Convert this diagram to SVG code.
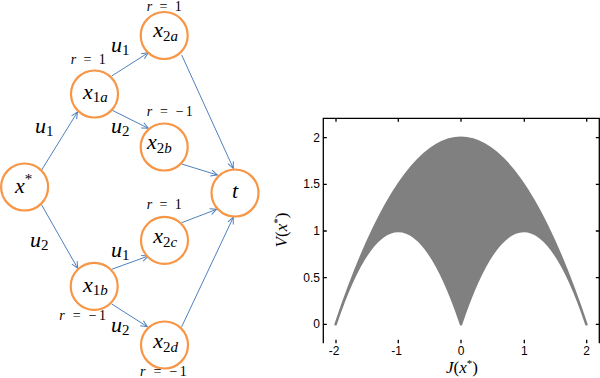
<svg xmlns="http://www.w3.org/2000/svg" width="600" height="378" viewBox="0 0 600 378">
<style>
.node circle{fill:#fff;stroke:#F79646;stroke-width:2.2}
.m{font-family:"Liberation Serif",serif;font-style:italic;font-size:22px;fill:#000}
.s{font-size:15px}
.n{font-style:normal}
.r{font-family:"Liberation Serif",serif;font-size:14px;fill:#000}
.i{font-style:italic}
.edge{stroke:#4F81BD;stroke-width:1;fill:none;marker-end:url(#arr)}
.ax{stroke:#000;stroke-width:1.3;fill:none}
.tk{font-family:"Liberation Sans",Arial,sans-serif;font-size:12px;fill:#000}
.al{font-family:"Liberation Serif",serif;font-size:17px;fill:#000}
</style>
<defs>
<marker id="arr" viewBox="0 0 8 8" refX="7.5" refY="4" markerWidth="8" markerHeight="8" markerUnits="userSpaceOnUse" orient="auto">
<path d="M1,1 L7.5,4 L1,7" fill="none" stroke="#4F81BD" stroke-width="1"/>
</marker>
</defs>
<rect width="600" height="378" fill="#fff"/>
<g id="connectors">
<line class="edge" x1="41" y1="171" x2="77.5" y2="112"/>
<line class="edge" x1="111.7" y1="76" x2="148.3" y2="52.7"/>
<line class="edge" x1="111.7" y1="110" x2="148.3" y2="128.3"/>
<line class="edge" x1="181.7" y1="55" x2="233.3" y2="168.3"/>
<line class="edge" x1="181.7" y1="164" x2="217.3" y2="175"/>
<line class="edge" x1="41.7" y1="205" x2="77.7" y2="268.3"/>
<line class="edge" x1="111.7" y1="269.3" x2="148.3" y2="256"/>
<line class="edge" x1="111.7" y1="304" x2="147.3" y2="326.7"/>
<line class="edge" x1="181.7" y1="222.7" x2="216.7" y2="209.3"/>
<line class="edge" x1="181.7" y1="326.7" x2="233.3" y2="217.3"/>
<text class="m" x="35" y="133">u<tspan class="s n" dy="3">1</tspan></text>
<text class="m" x="30" y="246.7">u<tspan class="s n" dy="3">2</tspan></text>
<text class="m" x="111" y="52.3">u<tspan class="s n" dy="3">1</tspan></text>
<text class="m" x="111" y="133.3">u<tspan class="s n" dy="3">2</tspan></text>
<text class="m" x="111" y="256.7">u<tspan class="s n" dy="3">1</tspan></text>
<text class="m" x="111" y="331.7">u<tspan class="s n" dy="3">2</tspan></text>
</g>
<g id="n_xstar" class="node">
<circle cx="24.6" cy="187" r="23.5"/>
<text class="m" x="15" y="192.5">x<tspan class="s n" dy="-9">*</tspan></text>
</g>
<g id="n_x1a" class="node">
<circle cx="94.5" cy="94" r="23.5"/>
<text class="m" x="83" y="99.3">x<tspan class="s n" dy="3">1</tspan><tspan class="s">a</tspan></text>
<text class="r" x="70.7" y="64" textLength="35"><tspan class="i">r</tspan> = 1</text>
</g>
<g id="n_x2a" class="node">
<circle cx="164.2" cy="35.5" r="23.5"/>
<text class="m" x="153.3" y="37.3">x<tspan class="s n" dy="4">2</tspan><tspan class="s">a</tspan></text>
<text class="r" x="146.7" y="10.5" textLength="35"><tspan class="i">r</tspan> = 1</text>
</g>
<g id="n_x2b" class="node">
<circle cx="164.2" cy="147" r="23.5"/>
<text class="m" x="147" y="149.3">x<tspan class="s n" dy="4">2</tspan><tspan class="s">b</tspan></text>
<text class="r" x="146.7" y="116" textLength="46"><tspan class="i">r</tspan> = −1</text>
</g>
<g id="n_t" class="node">
<circle cx="235" cy="193" r="23.5"/>
<text class="m" x="235" y="197.5" text-anchor="middle">t</text>
</g>
<g id="n_x2c" class="node">
<circle cx="164.5" cy="240.3" r="23.5"/>
<text class="m" x="153.3" y="243.3">x<tspan class="s n" dy="4">2</tspan><tspan class="s">c</tspan></text>
<text class="r" x="146.7" y="209.3" textLength="35"><tspan class="i">r</tspan> = 1</text>
</g>
<g id="n_x1b" class="node">
<circle cx="94.2" cy="286.3" r="23.5"/>
<text class="m" x="83" y="291.7">x<tspan class="s n" dy="3">1</tspan><tspan class="s">b</tspan></text>
<text class="r" x="59.3" y="320" textLength="46.7"><tspan class="i">r</tspan> = −1</text>
</g>
<g id="n_x2d" class="node">
<circle cx="164.5" cy="345" r="23.5"/>
<text class="m" x="153.3" y="348.3">x<tspan class="s n" dy="4">2</tspan><tspan class="s">d</tspan></text>
<text class="r" x="140" y="376" textLength="46.7"><tspan class="i">r</tspan> = −1</text>
</g>
<g id="plot">
<path d="M335.6,324.3 Q461,-48.9 586.4,324.3 Q523.7,137.7 461,324.3 Q398.3,137.7 335.6,324.3 Z" fill="#808080" stroke="#808080" stroke-width="2.5" stroke-linejoin="round"/>
<path class="ax" d="M323.3,343.3 V118.3 H599.3 V343.3"/>
<path class="ax" d="M323.3,137.7 h3.5 M323.3,184.3 h3.5 M323.3,231 h3.5 M323.3,277.7 h3.5 M323.3,324.3 h3.5 M599.3,137.7 h-3.5 M599.3,184.3 h-3.5 M599.3,231 h-3.5 M599.3,277.7 h-3.5 M599.3,324.3 h-3.5 M336,118.3 v3.5 M398.3,118.3 v3.5 M461,118.3 v3.5 M524.3,118.3 v3.5 M586.7,118.3 v3.5 M336,343.3 v-3.5 M398.3,343.3 v-3.5 M461,343.3 v-3.5 M524.3,343.3 v-3.5 M586.7,343.3 v-3.5"/>
<g class="tk" text-anchor="middle">
<text x="334" y="355">-2</text>
<text x="396.5" y="355">-1</text>
<text x="461" y="355">0</text>
<text x="524.3" y="355">1</text>
<text x="586.7" y="355">2</text>
</g>
<g class="tk" text-anchor="end">
<text x="320" y="141.7">2</text>
<text x="320" y="188.3">1.5</text>
<text x="320" y="235">1</text>
<text x="320" y="281.7">0.5</text>
<text x="320" y="328.3">0</text>
</g>
<text class="al" x="462" y="373" text-anchor="middle"><tspan class="i">J</tspan>(<tspan class="i">x</tspan><tspan font-size="11" dy="-6">*</tspan><tspan dy="6">)</tspan></text>
<text class="al" transform="translate(287,230) rotate(-90)" x="0" y="0" text-anchor="middle"><tspan class="i">V</tspan>(<tspan class="i">x</tspan><tspan font-size="11" dy="-6">*</tspan><tspan dy="6">)</tspan></text>
</g>
</svg>
